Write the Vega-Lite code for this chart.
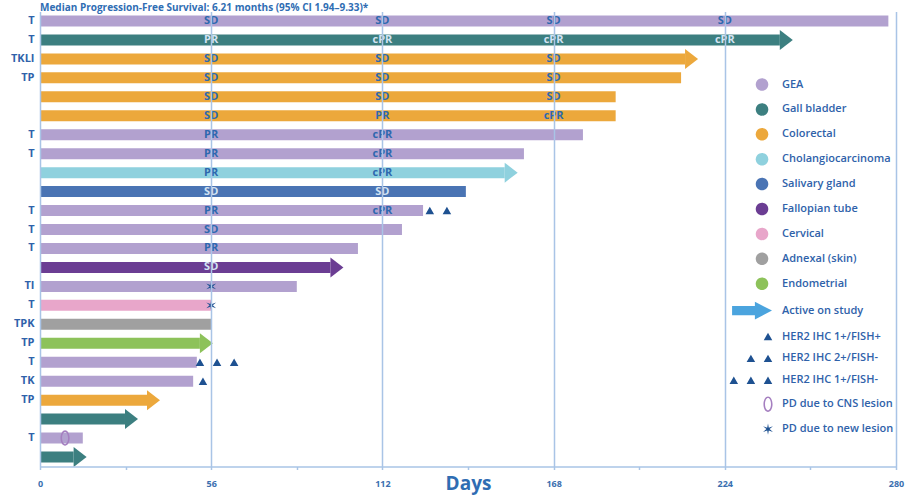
{
  "$schema": "https://vega.github.io/schema/vega-lite/v6.json",
  "width": 856,
  "height": 455,
  "autosize": {"type": "none"},
  "padding": {"left": 40, "top": 11.5, "right": 11, "bottom": 29.5},
  "background": "white",
  "config": {"view": {"stroke": null}, "font": "Open Sans"},
  "title": {
    "text": "Median Progression-Free Survival: 6.21 months (95% CI 1.94–9.33)*",
    "anchor": "start", "frame": "group", "baseline": "bottom", "offset": 0, "dy": 11,
    "fontSize": 10, "fontWeight": "bold", "color": "#2f6db3", "font": "Open Sans"
  },
  "datasets": {
    "bars": [
      {"row": "T|1", "cancer": "GEA", "day": 277.5, "active": false},
      {"row": "T|2", "cancer": "Gall bladder", "day": 242, "active": true},
      {"row": "TKLI|3", "cancer": "Colorectal", "day": 211, "active": true},
      {"row": "TP|4", "cancer": "Colorectal", "day": 209.7, "active": false},
      {"row": "|5", "cancer": "Colorectal", "day": 188.3, "active": false},
      {"row": "|6", "cancer": "Colorectal", "day": 188.3, "active": false},
      {"row": "T|7", "cancer": "GEA", "day": 177.6, "active": false},
      {"row": "T|8", "cancer": "GEA", "day": 158.3, "active": false},
      {"row": "|9", "cancer": "Cholangiocarcinoma", "day": 152, "active": true},
      {"row": "|10", "cancer": "Salivary gland", "day": 139.3, "active": false},
      {"row": "T|11", "cancer": "GEA", "day": 125.3, "active": false},
      {"row": "T|12", "cancer": "GEA", "day": 118.4, "active": false},
      {"row": "T|13", "cancer": "GEA", "day": 104, "active": false},
      {"row": "|14", "cancer": "Fallopian tube", "day": 95, "active": true},
      {"row": "TI|15", "cancer": "GEA", "day": 84, "active": false},
      {"row": "T|16", "cancer": "Cervical", "day": 56, "active": false},
      {"row": "TPK|17", "cancer": "Adnexal (skin)", "day": 56, "active": false},
      {"row": "TP|18", "cancer": "Endometrial", "day": 52.3, "active": true},
      {"row": "T|19", "cancer": "GEA", "day": 51.3, "active": false},
      {"row": "TK|20", "cancer": "GEA", "day": 50.1, "active": false},
      {"row": "TP|21", "cancer": "Colorectal", "day": 35, "active": true},
      {"row": "|22", "cancer": "Gall bladder", "day": 27.8, "active": true},
      {"row": "T|23", "cancer": "GEA", "day": 14, "active": false},
      {"row": "|24", "cancer": "Gall bladder", "day": 11, "active": true}
    ],
    "resp": [
      {"row": "T|1", "cancer": "GEA", "day": 56, "resp": "SD"},
      {"row": "T|1", "cancer": "GEA", "day": 112, "resp": "SD"},
      {"row": "T|1", "cancer": "GEA", "day": 168, "resp": "SD"},
      {"row": "T|1", "cancer": "GEA", "day": 224, "resp": "SD"},
      {"row": "T|2", "cancer": "Gall bladder", "day": 56, "resp": "PR"},
      {"row": "T|2", "cancer": "Gall bladder", "day": 112, "resp": "cPR"},
      {"row": "T|2", "cancer": "Gall bladder", "day": 168, "resp": "cPR"},
      {"row": "T|2", "cancer": "Gall bladder", "day": 224, "resp": "cPR"},
      {"row": "TKLI|3", "cancer": "Colorectal", "day": 56, "resp": "SD"},
      {"row": "TKLI|3", "cancer": "Colorectal", "day": 112, "resp": "SD"},
      {"row": "TKLI|3", "cancer": "Colorectal", "day": 168, "resp": "SD"},
      {"row": "TP|4", "cancer": "Colorectal", "day": 56, "resp": "SD"},
      {"row": "TP|4", "cancer": "Colorectal", "day": 112, "resp": "SD"},
      {"row": "TP|4", "cancer": "Colorectal", "day": 168, "resp": "SD"},
      {"row": "|5", "cancer": "Colorectal", "day": 56, "resp": "SD"},
      {"row": "|5", "cancer": "Colorectal", "day": 112, "resp": "SD"},
      {"row": "|5", "cancer": "Colorectal", "day": 168, "resp": "SD"},
      {"row": "|6", "cancer": "Colorectal", "day": 56, "resp": "SD"},
      {"row": "|6", "cancer": "Colorectal", "day": 112, "resp": "PR"},
      {"row": "|6", "cancer": "Colorectal", "day": 168, "resp": "cPR"},
      {"row": "T|7", "cancer": "GEA", "day": 56, "resp": "PR"},
      {"row": "T|7", "cancer": "GEA", "day": 112, "resp": "cPR"},
      {"row": "T|8", "cancer": "GEA", "day": 56, "resp": "PR"},
      {"row": "T|8", "cancer": "GEA", "day": 112, "resp": "cPR"},
      {"row": "|9", "cancer": "Cholangiocarcinoma", "day": 56, "resp": "PR"},
      {"row": "|9", "cancer": "Cholangiocarcinoma", "day": 112, "resp": "cPR"},
      {"row": "|10", "cancer": "Salivary gland", "day": 56, "resp": "SD"},
      {"row": "|10", "cancer": "Salivary gland", "day": 112, "resp": "SD"},
      {"row": "T|11", "cancer": "GEA", "day": 56, "resp": "PR"},
      {"row": "T|11", "cancer": "GEA", "day": 112, "resp": "cPR"},
      {"row": "T|12", "cancer": "GEA", "day": 56, "resp": "SD"},
      {"row": "T|13", "cancer": "GEA", "day": 56, "resp": "PR"},
      {"row": "|14", "cancer": "Fallopian tube", "day": 56, "resp": "SD"}
    ],
    "markers": [
      {"row": "T|11", "day": 133.1, "marker": "HER2 IHC 2+/FISH-"},
      {"row": "T|19", "day": 63.5, "marker": "HER2 IHC 1+/FISH-"},
      {"row": "TK|20", "day": 53.3, "marker": "HER2 IHC 1+/FISH+"},
      {"row": "T|23", "day": 8.2, "marker": "PD due to CNS lesion"},
      {"row": "TI|15", "day": 56, "marker": "PD due to new lesion"},
      {"row": "T|16", "day": 56, "marker": "PD due to new lesion"}
    ]
  },
  "encoding": {
    "x": {
      "field": "day", "type": "quantitative",
      "scale": {"domain": [0, 280], "nice": false, "zero": true},
      "axis": {
        "title": "Days",
        "values": [0, 28, 56, 84, 112, 140, 168, 196, 224, 252, 280],
        "labelExpr": "datum.value % 56 === 0 ? datum.label : ''",
        "grid": true, "gridColor": "#a9c4e6", "gridWidth": 1.5,
        "gridOpacity": {"condition": {"test": "datum.value % 56 === 0 && datum.value > 0", "value": 1}, "value": 0},
        "domainColor": "#a9c4e6", "domainWidth": 1.5,
        "tickColor": "#a9c4e6", "tickSize": 3, "tickWidth": 1.5,
        "labelFont": "Open Sans", "labelFontSize": 9, "labelFontWeight": "bold", "labelColor": "#3b6fb0",
        "labelPadding": 10, "labelFlush": false,
        "titleFont": "Open Sans", "titleFontSize": 19, "titleFontWeight": "bold", "titleColor": "#2f6db3",
        "titleY": 17, "titleBaseline": "middle",
        "zindex": 1
      }
    },
    "y": {
      "field": "row", "type": "nominal",
      "scale": {
        "domain": ["T|1", "T|2", "TKLI|3", "TP|4", "|5", "|6", "T|7", "T|8", "|9", "|10", "T|11", "T|12", "T|13", "|14", "TI|15", "T|16", "TPK|17", "TP|18", "T|19", "TK|20", "TP|21", "|22", "T|23", "|24"],
        "paddingInner": 0, "paddingOuter": 0
      },
      "axis": {
        "title": null,
        "labelExpr": "split(datum.value, '|')[0]",
        "ticks": false, "grid": false,
        "domainColor": "#a9c4e6", "domainWidth": 1.5,
        "labelFont": "Open Sans", "labelFontWeight": "bold", "labelFontSize": 11, "labelColor": "#2f62aa",
        "labelPadding": 6,
        "zindex": 1
      }
    }
  },
  "layer": [
    {
      "data": {"name": "bars"},
      "mark": {"type": "bar", "size": 11},
      "encoding": {
        "color": {
          "field": "cancer", "type": "nominal",
          "scale": {
            "domain": ["GEA", "Gall bladder", "Colorectal", "Cholangiocarcinoma", "Salivary gland", "Fallopian tube", "Cervical", "Adnexal (skin)", "Endometrial", "Active on study", "HER2 IHC 1+/FISH+", "HER2 IHC 2+/FISH-", "HER2 IHC 1+/FISH-", "PD due to CNS lesion", "PD due to new lesion"],
            "range": ["#b2a1cf", "#3c7f80", "#eca83c", "#8fd1de", "#4a74b4", "#6b3d93", "#e8a6ca", "#a0a0a0", "#8dc25a", "#4ba4de", "#1e5191", "#1e5191", "#1e5191", "#a57fc0", "#1e5191"]
          },
          "legend": {
            "title": null, "orient": "none", "direction": "vertical", "legendX": 722, "legendY": 67,
            "symbolSize": 130, "symbolStrokeWidth": 0, "symbolOpacity": 1,
            "labelFont": "Open Sans", "labelFontSize": 11, "labelFontWeight": 600, "labelColor": "#2f62aa",
            "labelOffset": 8, "rowPadding": 10.9, "padding": 0
          }
        }
      }
    },
    {
      "data": {"name": "bars"},
      "transform": [{"filter": "datum.active"}],
      "mark": {"type": "point", "shape": "M 0,-1 L 1.3,0 L 0,1 Z", "size": 400, "filled": true, "opacity": 1, "strokeWidth": 0},
      "encoding": {
        "color": {"field": "cancer", "type": "nominal"}
      }
    },
    {
      "data": {"name": "resp"},
      "mark": {"type": "text", "font": "Open Sans", "fontSize": 11, "fontWeight": "bold", "baseline": "middle", "align": "center"},
      "encoding": {
        "text": {"field": "resp", "type": "nominal"},
        "color": {
          "condition": {"test": "indexof(['Gall bladder', 'Salivary gland', 'Fallopian tube'], datum.cancer) >= 0", "value": "#d3e3f3"},
          "value": "#2d68ae"
        }
      }
    },
    {
      "data": {"name": "markers"},
      "mark": {"type": "point", "size": 130, "filled": true, "opacity": 1, "strokeWidth": 0},
      "encoding": {
        "color": {"field": "marker", "type": "nominal"},
        "shape": {
          "field": "marker", "type": "nominal",
          "scale": {
            "domain": ["GEA", "Gall bladder", "Colorectal", "Cholangiocarcinoma", "Salivary gland", "Fallopian tube", "Cervical", "Adnexal (skin)", "Endometrial", "Active on study", "HER2 IHC 1+/FISH+", "HER2 IHC 2+/FISH-", "HER2 IHC 1+/FISH-", "PD due to CNS lesion", "PD due to new lesion"],
            "range": [
              "M -2.15,0 A 1.1,1.1 0 1,1 0.05,0 A 1.1,1.1 0 1,1 -2.15,0 Z",
              "M -2.15,0 A 1.1,1.1 0 1,1 0.05,0 A 1.1,1.1 0 1,1 -2.15,0 Z",
              "M -2.15,0 A 1.1,1.1 0 1,1 0.05,0 A 1.1,1.1 0 1,1 -2.15,0 Z",
              "M -2.15,0 A 1.1,1.1 0 1,1 0.05,0 A 1.1,1.1 0 1,1 -2.15,0 Z",
              "M -2.15,0 A 1.1,1.1 0 1,1 0.05,0 A 1.1,1.1 0 1,1 -2.15,0 Z",
              "M -2.15,0 A 1.1,1.1 0 1,1 0.05,0 A 1.1,1.1 0 1,1 -2.15,0 Z",
              "M -2.15,0 A 1.1,1.1 0 1,1 0.05,0 A 1.1,1.1 0 1,1 -2.15,0 Z",
              "M -2.15,0 A 1.1,1.1 0 1,1 0.05,0 A 1.1,1.1 0 1,1 -2.15,0 Z",
              "M -2.15,0 A 1.1,1.1 0 1,1 0.05,0 A 1.1,1.1 0 1,1 -2.15,0 Z",
              "M -6.3,-0.8 L -2.3,-0.8 L -2.3,-1.55 L 0.7,0 L -2.3,1.55 L -2.3,0.8 L -6.3,0.8 Z",
              "M -0.75,0.65 L 0,-0.65 L 0.75,0.65 Z",
              "M -3.75,0.65 L -3,-0.65 L -2.25,0.65 Z M -0.75,0.65 L 0,-0.65 L 0.75,0.65 Z",
              "M -6.75,0.65 L -6,-0.65 L -5.25,0.65 Z M -3.75,0.65 L -3,-0.65 L -2.25,0.65 Z M -0.75,0.65 L 0,-0.65 L 0.75,0.65 Z",
              "M -0.8,0 A 0.8,1.35 0 1,1 0.8,0 A 0.8,1.35 0 1,1 -0.8,0 Z M -0.52,0 A 0.52,1.07 0 1,0 0.52,0 A 0.52,1.07 0 1,0 -0.52,0 Z",
              "M 0,-1 L 0.14,-0.242 L 0.866,-0.5 L 0.28,0 L 0.866,0.5 L 0.14,0.242 L 0,1 L -0.14,0.242 L -0.866,0.5 L -0.28,0 L -0.866,-0.5 L -0.14,-0.242 Z"
            ]
          },
          "legend": {
            "title": null, "orient": "none", "direction": "vertical", "legendX": 722, "legendY": 67,
            "symbolSize": 130, "symbolStrokeWidth": 0, "symbolOpacity": 1,
            "labelFont": "Open Sans", "labelFontSize": 11, "labelFontWeight": 600, "labelColor": "#2f62aa",
            "labelOffset": 8, "rowPadding": 10.9, "padding": 0
          }
        }
      }
    }
  ]
}
